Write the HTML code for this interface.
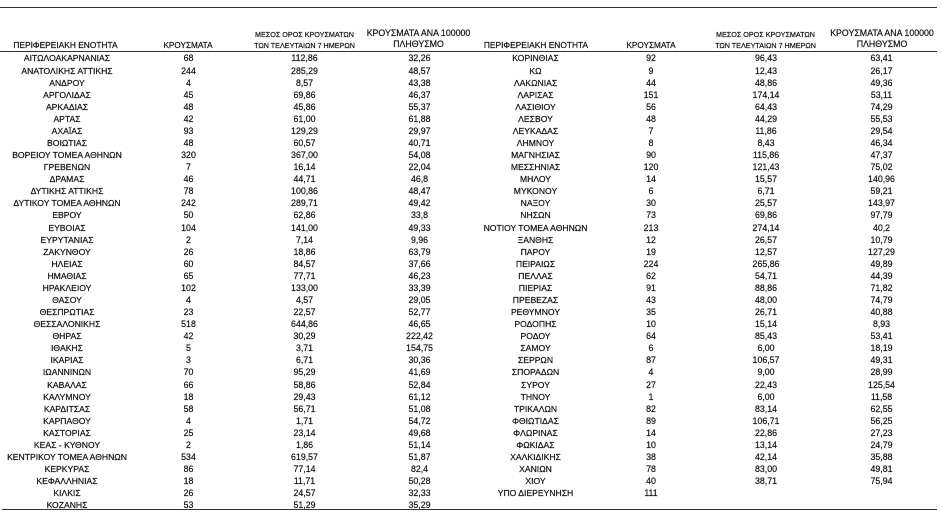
<!DOCTYPE html>
<html>
<head>
<meta charset="utf-8">
<style>
  html,body{margin:0;padding:0;background:#fff;}
  body{width:942px;height:517px;position:relative;overflow:hidden;
       font-family:"Liberation Sans","DejaVu Sans",sans-serif;color:#111;-webkit-text-stroke:0.2px #111;}
  .ln{position:absolute;background:#333;}
  .col{position:absolute;top:52.46px;text-align:center;font-size:8.8px;line-height:12.08px;white-space:nowrap;}
  .col.nm{font-size:8.6px;}
  .col div{height:12.08px;}
  .h{position:absolute;text-align:center;white-space:nowrap;line-height:11px;}
</style>
</head>
<body>
<div class="ln" style="left:0;top:6.5px;width:937px;height:1.5px;"></div>
<div class="ln" style="left:0;top:50.5px;width:937px;height:1.5px;"></div>
<div class="ln" style="left:2px;top:508.5px;width:935px;height:1.5px;"></div>

<!-- headers left -->
<div class="h" style="left:0;width:131px;top:39.5px;font-size:8.4px;">ΠΕΡΙΦΕΡΕΙΑΚΗ ΕΝΟΤΗΤΑ</div>
<div class="h" style="left:148px;width:80px;top:39.5px;font-size:8.2px;">ΚΡΟΥΣΜΑΤΑ</div>
<div class="h" style="left:244.5px;width:120px;top:29px;font-size:7.2px;">ΜΕΣΟΣ ΟΡΟΣ ΚΡΟΥΣΜΑΤΩΝ</div>
<div class="h" style="left:244.5px;width:120px;top:39.5px;font-size:7.2px;">ΤΩΝ ΤΕΛΕΥΤΑΙΩΝ 7 ΗΜΕΡΩΝ</div>
<div class="h" style="left:358.5px;width:120px;top:28px;font-size:8.8px;">ΚΡΟΥΣΜΑΤΑ ΑΝΑ 100000</div>
<div class="h" style="left:358.5px;width:120px;top:39px;font-size:8.8px;">ΠΛΗΘΥΣΜΟ</div>

<!-- headers right -->
<div class="h" style="left:471px;width:130px;top:39.5px;font-size:8.4px;">ΠΕΡΙΦΕΡΕΙΑΚΗ ΕΝΟΤΗΤΑ</div>
<div class="h" style="left:611px;width:80px;top:39.5px;font-size:8.2px;">ΚΡΟΥΣΜΑΤΑ</div>
<div class="h" style="left:705.5px;width:120px;top:29px;font-size:7.2px;">ΜΕΣΟΣ ΟΡΟΣ ΚΡΟΥΣΜΑΤΩΝ</div>
<div class="h" style="left:705.5px;width:120px;top:39.5px;font-size:7.2px;">ΤΩΝ ΤΕΛΕΥΤΑΙΩΝ 7 ΗΜΕΡΩΝ</div>
<div class="h" style="left:822px;width:120px;top:28px;font-size:8.8px;">ΚΡΟΥΣΜΑΤΑ ΑΝΑ 100000</div>
<div class="h" style="left:822px;width:120px;top:39px;font-size:8.8px;">ΠΛΗΘΥΣΜΟ</div>

<!-- left names -->
<div class="col nm" style="left:0;width:134px;">
<div>ΑΙΤΩΛΟΑΚΑΡΝΑΝΙΑΣ</div><div>ΑΝΑΤΟΛΙΚΗΣ ΑΤΤΙΚΗΣ</div><div>ΑΝΔΡΟΥ</div><div>ΑΡΓΟΛΙΔΑΣ</div><div>ΑΡΚΑΔΙΑΣ</div><div>ΑΡΤΑΣ</div><div>ΑΧΑΪΑΣ</div><div>ΒΟΙΩΤΙΑΣ</div><div>ΒΟΡΕΙΟΥ ΤΟΜΕΑ ΑΘΗΝΩΝ</div><div>ΓΡΕΒΕΝΩΝ</div><div>ΔΡΑΜΑΣ</div><div>ΔΥΤΙΚΗΣ ΑΤΤΙΚΗΣ</div><div>ΔΥΤΙΚΟΥ ΤΟΜΕΑ ΑΘΗΝΩΝ</div><div>ΕΒΡΟΥ</div><div>ΕΥΒΟΙΑΣ</div><div>ΕΥΡΥΤΑΝΙΑΣ</div><div>ΖΑΚΥΝΘΟΥ</div><div>ΗΛΕΙΑΣ</div><div>ΗΜΑΘΙΑΣ</div><div>ΗΡΑΚΛΕΙΟΥ</div><div>ΘΑΣΟΥ</div><div>ΘΕΣΠΡΩΤΙΑΣ</div><div>ΘΕΣΣΑΛΟΝΙΚΗΣ</div><div>ΘΗΡΑΣ</div><div>ΙΘΑΚΗΣ</div><div>ΙΚΑΡΙΑΣ</div><div>ΙΩΑΝΝΙΝΩΝ</div><div>ΚΑΒΑΛΑΣ</div><div>ΚΑΛΥΜΝΟΥ</div><div>ΚΑΡΔΙΤΣΑΣ</div><div>ΚΑΡΠΑΘΟΥ</div><div>ΚΑΣΤΟΡΙΑΣ</div><div>ΚΕΑΣ - ΚΥΘΝΟΥ</div><div>ΚΕΝΤΡΙΚΟΥ ΤΟΜΕΑ ΑΘΗΝΩΝ</div><div>ΚΕΡΚΥΡΑΣ</div><div>ΚΕΦΑΛΛΗΝΙΑΣ</div><div>ΚΙΛΚΙΣ</div><div>ΚΟΖΑΝΗΣ</div>
</div>
<div class="col" style="left:158.5px;width:60px;">
<div>68</div><div>244</div><div>4</div><div>45</div><div>48</div><div>42</div><div>93</div><div>48</div><div>320</div><div>7</div><div>46</div><div>78</div><div>242</div><div>50</div><div>104</div><div>2</div><div>26</div><div>60</div><div>65</div><div>102</div><div>4</div><div>23</div><div>518</div><div>42</div><div>5</div><div>3</div><div>70</div><div>66</div><div>18</div><div>58</div><div>4</div><div>25</div><div>2</div><div>534</div><div>86</div><div>18</div><div>26</div><div>53</div>
</div>
<div class="col" style="left:264.5px;width:80px;">
<div>112,86</div><div>285,29</div><div>8,57</div><div>69,86</div><div>45,86</div><div>61,00</div><div>129,29</div><div>60,57</div><div>367,00</div><div>16,14</div><div>44,71</div><div>100,86</div><div>289,71</div><div>62,86</div><div>141,00</div><div>7,14</div><div>18,86</div><div>84,57</div><div>77,71</div><div>133,00</div><div>4,57</div><div>22,57</div><div>644,86</div><div>30,29</div><div>3,71</div><div>6,71</div><div>95,29</div><div>58,86</div><div>29,43</div><div>56,71</div><div>1,71</div><div>23,14</div><div>1,86</div><div>619,57</div><div>77,14</div><div>11,71</div><div>24,57</div><div>51,29</div>
</div>
<div class="col" style="left:379.5px;width:80px;">
<div>32,26</div><div>48,57</div><div>43,38</div><div>46,37</div><div>55,37</div><div>61,88</div><div>29,97</div><div>40,71</div><div>54,08</div><div>22,04</div><div>46,8</div><div>48,47</div><div>49,42</div><div>33,8</div><div>49,33</div><div>9,96</div><div>63,79</div><div>37,66</div><div>46,23</div><div>33,39</div><div>29,05</div><div>52,77</div><div>46,65</div><div>222,42</div><div>154,75</div><div>30,36</div><div>41,69</div><div>52,84</div><div>61,12</div><div>51,08</div><div>54,72</div><div>49,68</div><div>51,14</div><div>51,87</div><div>82,4</div><div>50,28</div><div>32,33</div><div>35,29</div>
</div>

<!-- right -->
<div class="col nm" style="left:475.5px;width:120px;">
<div>ΚΟΡΙΝΘΙΑΣ</div><div>ΚΩ</div><div>ΛΑΚΩΝΙΑΣ</div><div>ΛΑΡΙΣΑΣ</div><div>ΛΑΣΙΘΙΟΥ</div><div>ΛΕΣΒΟΥ</div><div>ΛΕΥΚΑΔΑΣ</div><div>ΛΗΜΝΟΥ</div><div>ΜΑΓΝΗΣΙΑΣ</div><div>ΜΕΣΣΗΝΙΑΣ</div><div>ΜΗΛΟΥ</div><div>ΜΥΚΟΝΟΥ</div><div>ΝΑΞΟΥ</div><div>ΝΗΣΩΝ</div><div>ΝΟΤΙΟΥ ΤΟΜΕΑ ΑΘΗΝΩΝ</div><div>ΞΑΝΘΗΣ</div><div>ΠΑΡΟΥ</div><div>ΠΕΙΡΑΙΩΣ</div><div>ΠΕΛΛΑΣ</div><div>ΠΙΕΡΙΑΣ</div><div>ΠΡΕΒΕΖΑΣ</div><div>ΡΕΘΥΜΝΟΥ</div><div>ΡΟΔΟΠΗΣ</div><div>ΡΟΔΟΥ</div><div>ΣΑΜΟΥ</div><div>ΣΕΡΡΩΝ</div><div>ΣΠΟΡΑΔΩΝ</div><div>ΣΥΡΟΥ</div><div>ΤΗΝΟΥ</div><div>ΤΡΙΚΑΛΩΝ</div><div>ΦΘΙΩΤΙΔΑΣ</div><div>ΦΛΩΡΙΝΑΣ</div><div>ΦΩΚΙΔΑΣ</div><div>ΧΑΛΚΙΔΙΚΗΣ</div><div>ΧΑΝΙΩΝ</div><div>ΧΙΟΥ</div><div>ΥΠΟ ΔΙΕΡΕΥΝΗΣΗ</div>
</div>
<div class="col" style="left:621px;width:60px;">
<div>92</div><div>9</div><div>44</div><div>151</div><div>56</div><div>48</div><div>7</div><div>8</div><div>90</div><div>120</div><div>14</div><div>6</div><div>30</div><div>73</div><div>213</div><div>12</div><div>19</div><div>224</div><div>62</div><div>91</div><div>43</div><div>35</div><div>10</div><div>64</div><div>6</div><div>87</div><div>4</div><div>27</div><div>1</div><div>82</div><div>89</div><div>14</div><div>10</div><div>38</div><div>78</div><div>40</div><div>111</div>
</div>
<div class="col" style="left:726px;width:80px;">
<div>96,43</div><div>12,43</div><div>48,86</div><div>174,14</div><div>64,43</div><div>44,29</div><div>11,86</div><div>8,43</div><div>115,86</div><div>121,43</div><div>15,57</div><div>6,71</div><div>25,57</div><div>69,86</div><div>274,14</div><div>26,57</div><div>12,57</div><div>265,86</div><div>54,71</div><div>88,86</div><div>48,00</div><div>26,71</div><div>15,14</div><div>85,43</div><div>6,00</div><div>106,57</div><div>9,00</div><div>22,43</div><div>6,00</div><div>83,14</div><div>106,71</div><div>22,86</div><div>13,14</div><div>42,14</div><div>83,00</div><div>38,71</div><div></div>
</div>
<div class="col" style="left:841.5px;width:80px;">
<div>63,41</div><div>26,17</div><div>49,36</div><div>53,11</div><div>74,29</div><div>55,53</div><div>29,54</div><div>46,34</div><div>47,37</div><div>75,02</div><div>140,96</div><div>59,21</div><div>143,97</div><div>97,79</div><div>40,2</div><div>10,79</div><div>127,29</div><div>49,89</div><div>44,39</div><div>71,82</div><div>74,79</div><div>40,88</div><div>8,93</div><div>53,41</div><div>18,19</div><div>49,31</div><div>28,99</div><div>125,54</div><div>11,58</div><div>62,55</div><div>56,25</div><div>27,23</div><div>24,79</div><div>35,88</div><div>49,81</div><div>75,94</div><div></div>
</div>
</body>
</html>
